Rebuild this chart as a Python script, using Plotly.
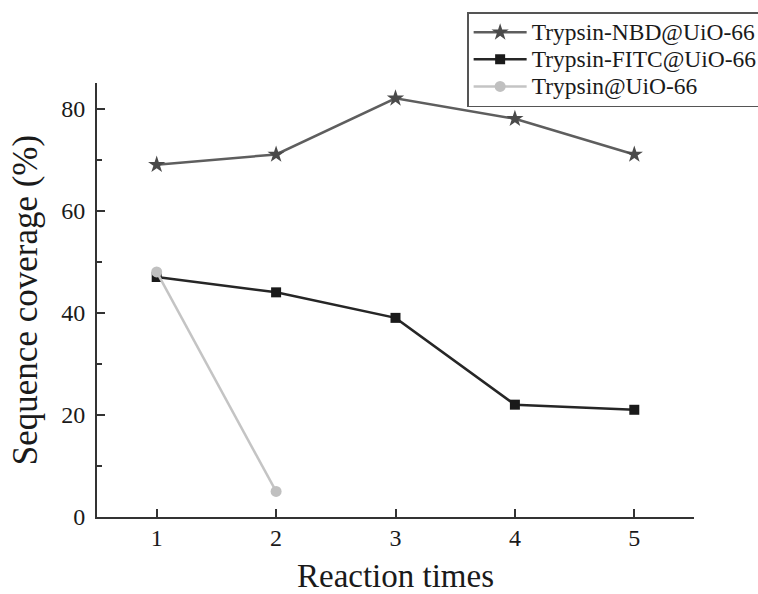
import plotly.graph_objects as go

reaction_times = [1, 2, 3, 4, 5]
nbd_coverage = [69, 71, 82, 78, 71]
fitc_coverage = [47, 44, 39, 22, 21]
plain_times = [1, 2]
plain_coverage = [48, 5]
series_names = ["Trypsin-NBD@UiO-66", "Trypsin-FITC@UiO-66", "Trypsin@UiO-66"]

FONT = "Liberation Serif, Times New Roman, serif"


def legend_label(name):
    return '<span style="font-size:23.5px">' + name + "</span>"


fig = go.Figure()
fig.add_trace(go.Scatter(
    x=reaction_times, y=nbd_coverage, name=legend_label(series_names[0]),
    mode="lines+markers",
    line=dict(color="#5e5e5e", width=2.5),
    marker=dict(symbol="star", size=13, color="#4a4a4a"),
))
fig.add_trace(go.Scatter(
    x=reaction_times, y=fitc_coverage, name=legend_label(series_names[1]),
    mode="lines+markers",
    line=dict(color="#262626", width=2.5),
    marker=dict(symbol="square", size=10, color="#1a1a1a"),
))
fig.add_trace(go.Scatter(
    x=plain_times, y=plain_coverage, name=legend_label(series_names[2]),
    mode="lines+markers",
    line=dict(color="#c4c4c4", width=2.5),
    marker=dict(symbol="circle", size=11, color="#c0c0c0"),
))

fig.update_layout(
    width=758, height=594,
    margin=dict(l=97, r=64, t=83, b=77, autoexpand=False),
    paper_bgcolor="white", plot_bgcolor="white",
    font=dict(family=FONT, color="#1a1a1a"),
    showlegend=True,
    legend=dict(
        x=0.62, y=1.163, xanchor="left", yanchor="top",
        bgcolor="rgba(255,255,255,0.85)", bordercolor="#555", borderwidth=1.5,
        font=dict(family=FONT, size=18.5, color="#1a1a1a"),
        tracegroupgap=0, itemwidth=53,
    ),
)
fig.update_xaxes(
    range=[0.5, 5.5], tickvals=reaction_times,
    showgrid=False, zeroline=False, automargin=False,
    showline=True, linecolor="#333", linewidth=2,
    ticks="inside", ticklen=8, tickwidth=2, tickcolor="#333",
    ticklabelstandoff=-2,
    tickfont=dict(family=FONT, size=24),
    title=dict(text="Reaction times", font=dict(family=FONT, size=33), standoff=22),
)
fig.update_yaxes(
    range=[0, 85], tickvals=[0, 20, 40, 60, 80],
    showgrid=False, zeroline=False, automargin=False,
    showline=True, linecolor="#333", linewidth=2,
    ticks="inside", ticklen=8, tickwidth=2, tickcolor="#333",
    ticklabelstandoff=5,
    minor=dict(tickvals=[10, 30, 50, 70], ticks="inside", ticklen=5, tickwidth=2, tickcolor="#333"),
    tickfont=dict(family=FONT, size=24),
    title=dict(text="Sequence coverage (%)", font=dict(family=FONT, size=35), standoff=13),
)

fig.write_html("out.html")
